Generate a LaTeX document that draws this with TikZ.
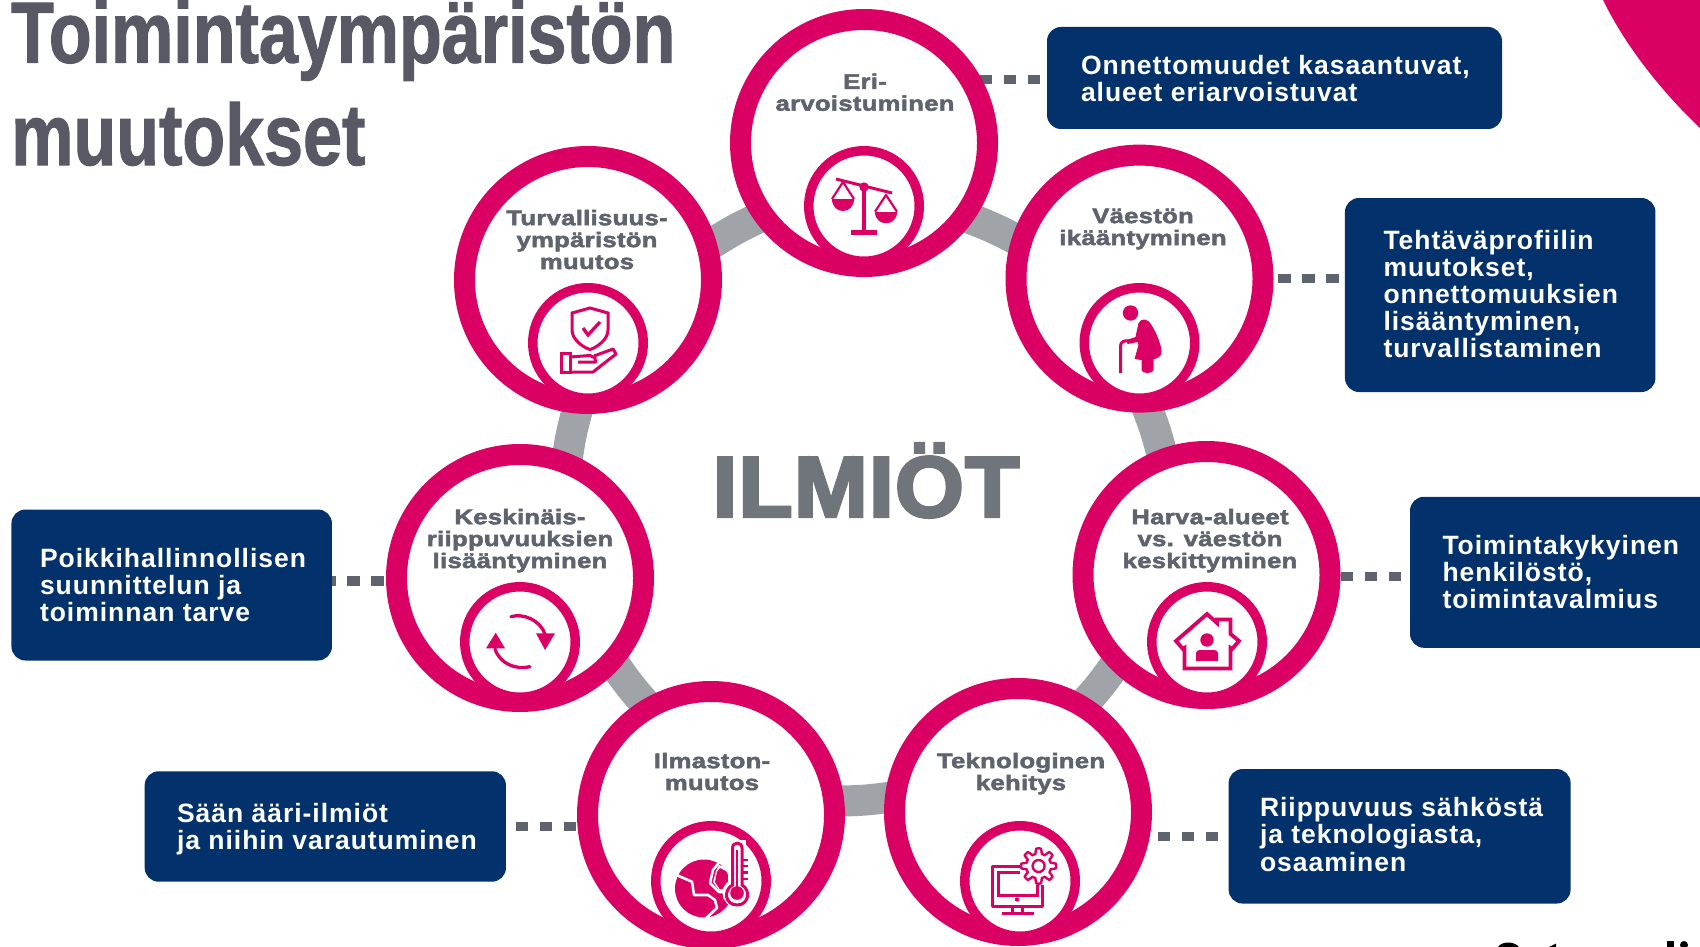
\documentclass[tikz,border=0pt]{standalone}
\usepackage{fontspec}
\setmainfont{Liberation Sans}
\newfontfamily\titlefont[FakeStretch=0.805,FakeBold=1.2]{Liberation Sans}
\newfontfamily\boxfont[LetterSpace=3.7]{Liberation Sans}
\newfontfamily\labelfont[FakeBold=2.5,FakeStretch=1.22,LetterSpace=1.5]{Liberation Sans}
\newfontfamily\bigfont[FakeBold=3.5,FakeStretch=1.03,LetterSpace=1.5]{Liberation Sans}
\definecolor{mag}{HTML}{DB0164}
\definecolor{navy}{HTML}{03316C}
\definecolor{ringgray}{HTML}{A0A3A7}
\definecolor{dotgray}{HTML}{5F636E}
\definecolor{titlegray}{HTML}{585965}
\definecolor{biggray}{HTML}{70747B}
\pgfdeclarelayer{back}
\pgfsetlayers{back,main}
\tikzset{
  bigring/.style={circle,draw=mag,fill=white,line width=21pt,minimum size=247pt,inner sep=0pt,outer sep=10.5pt},
  iconring/.style={circle,draw=mag,fill=white,line width=9.5pt,minimum size=110.5pt,inner sep=0pt,outer sep=4.75pt},
  callout/.style={rectangle,fill=navy,rounded corners=14pt,inner sep=0pt,outer sep=0pt},
  boxtext/.style={inner sep=0pt,outer sep=0pt,text=white,align=left,font=\boxfont\bfseries\fontsize{26.5}{27.1}\selectfont},
  ringlabel/.style={inner sep=0pt,outer sep=0pt,text=dotgray,align=center,font=\labelfont\bfseries\fontsize{21}{21.9}\selectfont},
  ringlink/.style={draw=ringgray,line width=31pt,bend left=4,shorten <=-14pt,shorten >=-14pt},
  linkdots/.style={draw=dotgray,line width=9.5pt,dash pattern=on 0pt off #1pt on 12.5pt off 11.5pt on 12.5pt off 11.5pt on 12.5pt off 3000pt},
  ico/.style={draw=mag,line width=3pt,fill=none},
  icof/.style={fill=mag,draw=none}
}
\begin{document}
\begin{tikzpicture}[x=1pt,y=-1pt]
\path[use as bounding box,clip] (0,0) rectangle (1700,947);
% corner
\fill[mag] (1603,0) .. controls (1625,45) and (1660,90) .. (1700,128) -- (1700,0) -- cycle;
% cropped fragments at the lower edge
\fill[black] (1498,947) .. controls (1502,941) and (1514,941) .. (1519,947) -- cycle;
\fill[black] (1549,947) -- (1556,943.5) -- (1556,947) -- cycle;
\fill[black] (1667,941) rectangle (1674,947);
\fill[black] (1684,945) circle (4);
% title
\node[inner sep=0pt,anchor=base west,text=titlegray,font=\titlefont\bfseries\fontsize{87}{87}\selectfont] (title1) at (11,62.7) {Toimintaympäristön};
\node[inner sep=0pt,anchor=base west,text=titlegray,font=\titlefont\bfseries\fontsize{87}{87}\selectfont] (title2) at (11,165) {muutokset};
% big circles
\node[bigring] (eri) at (864,143) {};
\node[bigring] (vaesto) at (1139.5,278.6) {};
\node[bigring] (harva) at (1206.5,575) {};
\node[bigring] (tekno) at (1018,812) {};
\node[bigring] (ilmasto) at (711,815) {};
\node[bigring] (kesk) at (520,578) {};
\node[bigring] (turva) at (588,280) {};
% icon circles
\node[iconring] (ieri) at (864,206) {};
\node[iconring] (ivaesto) at (1139.5,343) {};
\node[iconring] (iharva) at (1207,642) {};
\node[iconring] (itekno) at (1020,881) {};
\node[iconring] (iilmasto) at (711,881) {};
\node[iconring] (ikesk) at (520,642) {};
\node[iconring] (iturva) at (588,343) {};
% callouts
\node[callout,minimum width=455pt,minimum height=102pt] (boxa) at (1274.5,78) {};
\node[callout,minimum width=310.5pt,minimum height=194pt] (boxb) at (1500.2,295) {};
\node[callout,minimum width=320pt,minimum height=151pt] (boxc) at (1570,572.3) {};
\node[callout,minimum width=342pt,minimum height=134.5pt] (boxd) at (1399.6,836.3) {};
\node[callout,minimum width=320.5pt,minimum height=151pt] (boxe) at (171.7,585) {};
\node[callout,minimum width=361.3pt,minimum height=110.4pt] (boxf) at (325.3,826.5) {};
\node[boxtext,anchor=base west] (ta) at (1081,101.2) {Onnettomuudet kasaantuvat,\\alueet eriarvoistuvat};
\node[boxtext,anchor=base west] (tb) at (1383.5,357.8) {Tehtäväprofiilin\\muutokset,\\onnettomuuksien\\lisääntyminen,\\turvallistaminen};
\node[boxtext,anchor=base west] (tc) at (1442.5,608.2) {Toimintakykyinen\\henkilöstö,\\toimintavalmius};
\node[boxtext,anchor=base west] (td) at (1260,871) {Riippuvuus sähköstä\\ja teknologiasta,\\osaaminen};
\node[boxtext,anchor=base west] (te) at (40,621.2) {Poikkihallinnollisen\\suunnittelun ja\\toiminnan tarve};
\node[boxtext,anchor=base west] (tf) at (177,849.5) {Sään ääri-ilmiöt\\ja niihin varautuminen};
% labels
\node[ringlabel,anchor=base] (leri) at (865,110.7) {Eri-\\arvoistuminen};
\node[ringlabel,anchor=base] (lvaesto) at (1143,245) {Väestön\\ikääntyminen};
\node[ringlabel,anchor=base] (lharva) at (1210,568) {Harva-alueet\\vs. väestön\\keskittyminen};
\node[ringlabel,anchor=base] (ltekno) at (1021,790) {Teknologinen\\kehitys};
\node[ringlabel,anchor=base] (lilmasto) at (712,790) {Ilmaston-\\muutos};
\node[ringlabel,anchor=base] (lkesk) at (520,568) {Keskinäis-\\riippuvuuksien\\lisääntyminen};
\node[ringlabel,anchor=base] (lturva) at (587,269) {Turvallisuus-\\ympäristön\\muutos};
\node[inner sep=0pt,anchor=base,text=biggray,font=\bigfont\bfseries\fontsize{86}{86}\selectfont] (ilmiot) at (866,516.7) {ILMIÖT};
% connectors
\begin{pgfonlayer}{back}
\draw[ringlink] (eri.-35.4) to (vaesto.162.8);
\draw[ringlink] (vaesto.274.8) to (harva.110.2);
\draw[ringlink] (harva.225.2) to (tekno.58);
\draw[ringlink] (tekno.174.6) to (ilmasto.6.6);
\draw[ringlink] (ilmasto.121.6) to (kesk.-43.6);
\draw[ringlink] (kesk.69.2) to (turva.265.2);
\draw[ringlink] (turva.17.6) to (eri.215.4);
\draw[linkdots=7] ([yshift=-1.5pt]boxa.west) -- ([yshift=-1.5pt]boxa.west -| eri.center);
\draw[linkdots=4.5] (vaesto.east) -- (vaesto.east -| boxb.west);
\draw[linkdots=0] ([yshift=-1.5pt]harva.east) -- ([yshift=-1.5pt]harva.east -| boxc.west);
\draw[linkdots=10.6] (boxd.west) -- (boxd.west -| tekno.center);
\draw[linkdots=2.5] ([yshift=-3pt]kesk.west) -- ([yshift=-3pt]kesk.west -| boxe.center);
\draw[linkdots=10] (boxf.east) -- (boxf.east -| ilmasto.center);
\end{pgfonlayer}
% scales
\begin{scope}[shift={(ieri.center)}]
\draw[ico] (-28,-27) -- (28,-13);
\fill[mag] (0,-19) circle (4.7);
\draw[ico,line width=3.3pt] (0,-19) -- (0,25);
\fill[mag] (-13,24) rectangle (13,28.5);
\draw[ico,line width=2.2pt,line join=round] (-32,-7) -- (-21,-24) -- (-10,-7);
\draw[ico,line width=2.2pt,line join=round] (11,5.7) -- (22,-11) -- (33,5.7);
\fill[mag] (-32,-7) .. controls (-32,9) and (-10,9) .. (-10,-7) -- cycle;
\fill[mag] (11,5.7) .. controls (11,21) and (33,21) .. (33,5.7) -- cycle;
\end{scope}
% elderly person
\begin{scope}[shift={(ivaesto.center)}]
\fill[mag] (-9,-30) circle (7.7);
\fill[mag] (-1,-20) .. controls (2,-25) and (8,-25) .. (12,-18) .. controls (17,-10) and (22,2) .. (22,9) .. controls (22,13) and (18,16) .. (14,16) -- (14,27) .. controls (14,31) and (2,31) .. (2,27) -- (2,17) -- (-5,16) -- (-1,2) -- (-2,-1) -- (-12,1) -- (-13,-3) -- (-4,-6) -- cycle;
\draw[ico,line width=3pt] (-19,30) -- (-19,3) .. controls (-19,-1) and (-15,-3) .. (-11,-2);
\end{scope}
% house
\begin{scope}[shift={(iharva.center)}]
\draw[ico,line width=3.8pt,line join=miter] (0,-28) -- (-31,-1) -- (-24,7) -- (-22.5,6) -- (-22.5,26.5) -- (23.5,26.5) -- (23.5,6) -- (25,7) -- (32,-1) -- (23.5,-8) -- (23.5,-22.5) -- (10,-22.5) -- (10,-19) -- cycle;
\fill[mag] (0,-2) circle (6.7);
\fill[mag] (-11,19) -- (-11,11) .. controls (-11,9) and (-9,8) .. (-7,8) -- (7,8) .. controls (9,8) and (11,9) .. (11,11) -- (11,19) -- cycle;
\end{scope}
% monitor and gear
\begin{scope}[shift={(itekno.center)}]
\draw[ico,line join=round] (0,-15) -- (-28,-15) -- (-28,25) -- (22,25) -- (22,4);
\draw[ico] (0,-9) -- (-22,-9) -- (-22,14) -- (17,14) -- (17,4);
\fill[mag] (-3,18.5) circle (2.2);
\draw[ico] (-8,25) -- (-8,31) (2.5,25) -- (2.5,31);
\draw[ico] (-18,32) -- (14,32);
\begin{scope}[shift={(18.6,-15)}]
\draw[ico,line width=2.4pt,fill=white,line join=round] plot[domain=0:360,samples=97] (\x:{15+2.6*sign(cos(8*\x))}) -- cycle;
\draw[ico,line width=2.4pt] (0,0) circle (6);
\end{scope}
\end{scope}
% globe and thermometer
\begin{scope}[shift={(iilmasto.center)}]
\fill[mag] (-7,7.5) circle (29);
\draw[white,line width=2.6pt,line join=round] (-37,-7) -- (-19,.7) -- (-17,14) -- (-3,14) -- (4,19) -- (6,27) -- (-8,40);
\draw[white,line width=2.6pt,line join=round] (11,-22) -- (2,-11) -- (-1,2) -- (8,11) -- (14,11);
\fill[white] (8,-16) -- (20,-12) -- (26,20) -- (8,9) -- (2,1) -- (5,-10) -- cycle;
\fill[mag] (9,-13) -- (15,-10) -- (18,-4) -- (18,6) -- (9,8.5) -- (4,1) -- (6,-9) -- cycle;
\draw[white,fill=white,line width=3pt] (26,12) circle (13);
\fill[white] (17,-41) rectangle (35,12);
\draw[ico,fill=white] (21.5,4) -- (21.5,-33) .. controls (21.5,-39.5) and (31,-39.5) .. (31,-33) -- (31,4) .. controls (40,9) and (38,24) .. (26,24) .. controls (14,24) and (12,9) .. (21.5,4) -- cycle;
\fill[mag] (26,12) circle (6.8);
\draw[ico,line width=2.4pt] (26,12) -- (26,-31);
\draw[ico,line width=2.2pt] (32,-21) -- (36.5,-21) (32,-15) -- (36.5,-15) (32,-8.5) -- (36.5,-8.5) (32,-2) -- (36.5,-2);
\end{scope}
% sync arrows
\begin{scope}[shift={(ikesk.center)}]
\draw[ico,line width=3.3pt,line cap=round] (-9,-25.3) .. controls (3,-29) and (20,-22) .. (25,-8);
\fill[mag] (16,-8.7) -- (35,-8.7) -- (25,8) -- cycle;
\draw[ico,line width=3.3pt,line cap=round] (10,24.7) .. controls (-4,28) and (-20,22) .. (-25,7);
\fill[mag] (-34,6.3) -- (-15,6.3) -- (-24.3,-9.3) -- cycle;
\end{scope}
% shield and hand
\begin{scope}[shift={(iturva.center)}]
\draw[ico,line join=miter] (2,-35) -- (-16,-30) -- (-16,-13) .. controls (-16,-4) and (-6,4) .. (2,6.5) .. controls (10,4) and (20,-4) .. (20,-13) -- (20,-30) -- cycle;
\draw[ico,line width=3.3pt] (-5,-15) -- (0,-8) -- (12,-21);
\draw[ico] (-27,10.5) rectangle (-18,29.5);
\draw[ico,line join=round] (-18,14) -- (2,12.5) -- (7,15) -- (7.5,19) -- (-10,19);
\draw[ico,line join=round] (6,13) -- (25,6) -- (28,11) -- (5,29) -- (-18,29);
\end{scope}
\end{tikzpicture}
\end{document}
